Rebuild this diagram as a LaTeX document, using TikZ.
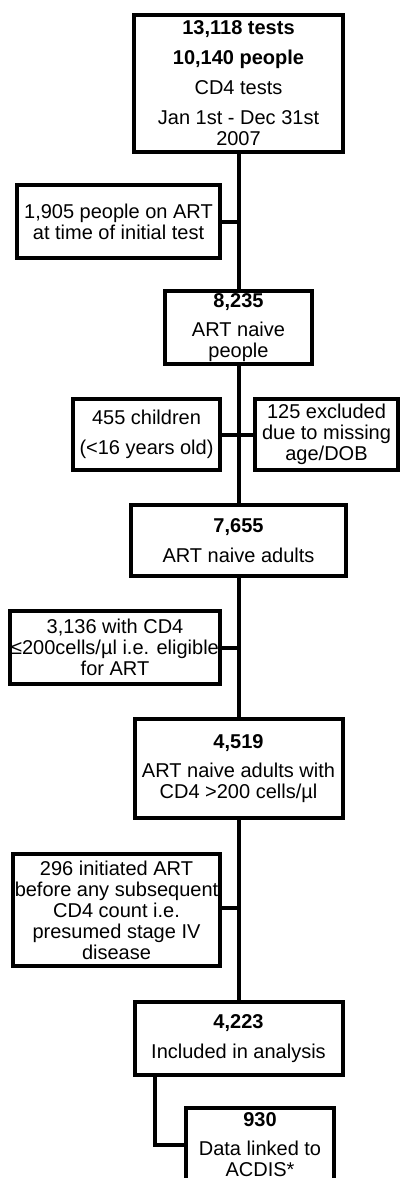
\documentclass[tikz,border=0pt]{standalone}
\usepackage{fontspec}
\setmainfont{Liberation Sans}
\begin{document}
\begin{tikzpicture}[x=1pt,y=-1pt,
  box/.style={draw=black, line width=4pt, align=center, inner sep=0pt,
    font=\fontsize{20}{21}\selectfont},
  conn/.style={draw=black, line width=4pt}]
\useasboundingbox (0,0) rectangle (400,1178);
\clip (0,0) rectangle (400,1178);
\node[box, minimum width=209pt, minimum height=137pt] (b1) at (238.5,83.5)
  {\textbf{13,118 tests}\\[9pt]\textbf{10,140 people}\\[9pt]CD4 tests\\[9pt]Jan 1st - Dec 31st\\2007};
\node[box, minimum width=203pt, minimum height=73pt] (b2) at (118.5,221.5)
  {1,905 people on ART\\at time of initial test};
\node[box, minimum width=147pt, minimum height=73pt] (b3) at (238.5,327.5)
  {\textbf{8,235}\\[8pt]ART naive\\people};
\node[box, minimum width=147pt, minimum height=71pt] (b4) at (146.5,434.5)
  {455 children\\[9pt](<16 years old)};
\node[box, minimum width=143pt, minimum height=71pt] (b5) at (326.5,434.5)
  {125 excluded\\due to missing\\age/DOB};
\node[box, minimum width=215pt, minimum height=71pt] (b6) at (238.5,540.5)
  {\textbf{7,655}\\[9pt]ART naive adults};
\node[box, minimum width=210pt, minimum height=73pt] (b7) at (115,647.5)
  {3,136 with CD4\\≤200cells/µl i.e. eligible\\for ART};
\node[box, minimum width=208pt, minimum height=99pt] (b8) at (238.5,768.5)
  {\textbf{4,519}\\[8pt]ART naive adults with\\CD4 >200 cells/µl};
\node[box, minimum width=207pt, minimum height=112pt] (b9) at (116.5,910)
  {296 initiated ART\\before any subsequent\\CD4 count i.e.\\presumed stage IV\\disease};
\node[box, minimum width=208pt, minimum height=73pt] (b10) at (238.5,1038.5)
  {\textbf{4,223}\\[9pt]Included in analysis};
\node[box, minimum width=148pt, minimum height=73pt] (b11) at (260,1144.5)
  {\textbf{930}\\[8pt]Data linked to\\ACDIS*};
\draw[conn] (b1.south) -- (b3.north);
\draw[conn] (b3.south) -- (b6.north);
\draw[conn] (b6.south) -- (b8.north);
\draw[conn] (b8.south) -- (b10.north);
\draw[conn] (b2.east) -- (b2.east -| b1.south);
\draw[conn] (b4.east) -- (b5.west);
\draw[conn] (b7.east) -- (b7.east -| b1.south);
\draw[conn] ([yshift=2pt]b9.east) -- ([yshift=2pt]b9.east -| b1.south);
\draw[conn] ([xshift=22pt]b10.south west) |- (b11.west);
\end{tikzpicture}
\end{document}
